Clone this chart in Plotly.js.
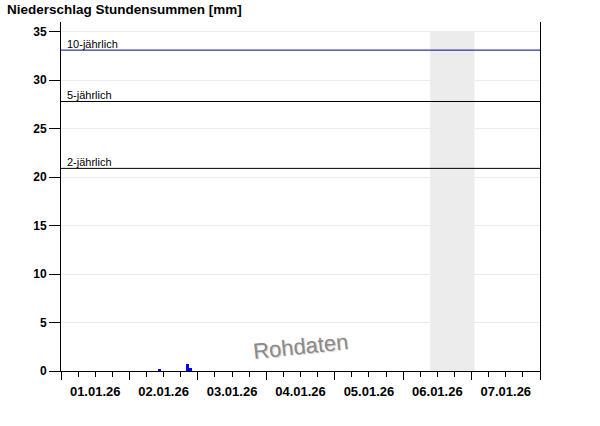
<!DOCTYPE html>
<html>
<head>
<meta charset="utf-8">
<script src="https://cdn.plot.ly/plotly-3.0.1.min.js"></script>
<style>html,body{margin:0;padding:0;background:#fff;}#chart{width:600px;height:426px;}</style>
</head>
<body>
<div id="chart"></div>
<script>
// Hourly precipitation sums (hour start, mm)
const hours = ["2026-01-02 10:00", "2026-01-02 20:00", "2026-01-02 21:00"];
const precip = [0.2, 0.7, 0.3];

// Return-period thresholds (mm)
const returnLabels = ["2-jährlich", "5-jährlich", "10-jährlich"];
const returnValues = [20.9, 27.8, 33.1];
const returnColors = ["#000000", "#000000", "#000090"];

// Shaded period
const shadeStart = "2026-01-06 09:30";
const shadeEnd = "2026-01-07 01:00";

const xRange = ["2026-01-01 00:00", "2026-01-08 00:00"];
const yRange = [0, 36];
const yTicks = [0, 5, 10, 15, 20, 25, 30, 35];

const shapes = [
  {type: 'rect', xref: 'x', yref: 'y', x0: shadeStart, x1: shadeEnd, y0: 0, y1: 35,
   fillcolor: '#ececec', line: {width: 0}, layer: 'below'}
];
const annotations = [];
returnValues.forEach((v, i) => {
  shapes.push({type: 'line', xref: 'paper', yref: 'y', x0: 0, x1: 1, y0: v, y1: v,
    line: {color: returnColors[i], width: 1}});
  annotations.push({xref: 'paper', yref: 'y', x: 0.008, y: v, text: returnLabels[i],
    showarrow: false, xanchor: 'left', yanchor: 'bottom', yshift: -2,
    font: {family: 'Liberation Sans, Arial, sans-serif', size: 11, color: '#000'}});
});
annotations.push({xref: 'paper', yref: 'paper', x: 0.5, y: 0.07, text: 'Rohdaten',
  showarrow: false, textangle: -6, xanchor: 'center', yanchor: 'middle',
  font: {family: 'Liberation Sans, Arial, sans-serif', size: 22, color: '#8a8a8a',
         shadow: '1px 1px 1px #d0d0d0'}});

const data = [{
  type: 'bar', x: hours, y: precip,
  xperiod: 3600000, xperiodalignment: 'middle', width: 3600000,
  marker: {color: '#0000ff', line: {width: 0}},
  hoverinfo: 'skip'
}];

const layout = {
  width: 600, height: 426,
  margin: {l: 61, r: 60, t: 22, b: 55},
  paper_bgcolor: '#fff', plot_bgcolor: '#fff',
  showlegend: false,
  bargap: 0,
  title: {text: '<b>Niederschlag Stundensummen [mm]</b>', x: 7 / 600, xanchor: 'left', xref: 'container',
    y: 0.978, yanchor: 'middle',
    font: {family: 'Liberation Sans, Arial, sans-serif', size: 13.5, color: '#000'}},
  xaxis: {
    type: 'date', range: xRange, tick0: '2026-01-01', dtick: 86400000,
    tickformat: '<b>%d.%m.%y</b>', ticklabelmode: 'period',
    ticks: 'outside', ticklen: 8, tickcolor: '#000', tickwidth: 1,
    showline: true, linecolor: '#000', linewidth: 1, showgrid: false, zeroline: false,
    minor: {dtick: 21600000, tick0: '2026-01-01', ticks: 'outside', ticklen: 5, tickcolor: '#000', showgrid: false},
    tickfont: {family: 'Liberation Sans, Arial, sans-serif', size: 13, color: '#000'}
  },
  yaxis: {
    range: yRange, tickvals: yTicks, ticktext: yTicks.map(v => '<b>' + v + '</b>'),
    ticks: 'outside', ticklen: 11, tickcolor: '#000',
    showline: true, linecolor: '#000', linewidth: 1, mirror: true,
    showgrid: true, gridcolor: '#ebebeb', zeroline: false,
    tickfont: {family: 'Liberation Sans, Arial, sans-serif', size: 12, color: '#000'}
  },
  shapes: shapes,
  annotations: annotations
};

Plotly.newPlot('chart', data, layout, {displayModeBar: false, staticPlot: true});
</script>
</body>
</html>
